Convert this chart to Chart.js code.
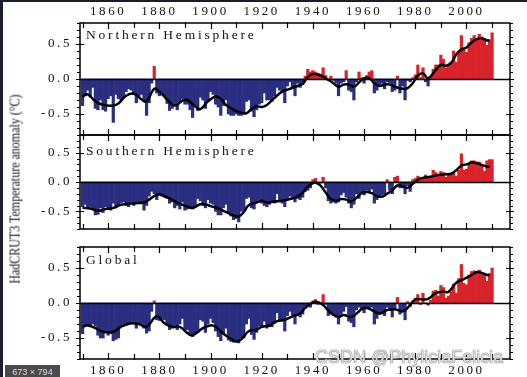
<!DOCTYPE html>
<html>
<head>
<meta charset="utf-8">
<script src="https://cdn.jsdelivr.net/npm/chart.js@4"></script>
<style>
  html, body { margin: 0; padding: 0; background: #fff; }
  #wrap { position: relative; width: 527px; height: 377px; overflow: hidden; background: #fff;
          border-top: 2px solid #1b1d2e; border-left: 3px solid #1b1d2e; box-sizing: border-box; }
  #wrap canvas { position: absolute; left: -3px; top: -2px; }
  .ttl { position: absolute; left: 83px; font: 13.5px "Liberation Serif", "DejaVu Serif", serif;
         letter-spacing: 2.8px; color: #111; line-height: 14px; white-space: nowrap; }
  #ylab { position: absolute; left: 12px; top: 187px; width: 0; height: 0; }
  #ylab span { position: absolute; white-space: nowrap; font: 15px "Liberation Serif", serif; color: #111;
               transform: translate(-50%, -50%) rotate(-90deg) scaleX(0.8); }
  #mark { position: absolute; left: 312px; top: 345px; font: 18px "Liberation Sans", Arial, sans-serif;
          line-height: 20px; color: rgba(255,255,255,0.75); white-space: nowrap;
          text-shadow: 0 0 1px #777, 0 0 1px #777, 0 0 1px #888; }
  #badge { position: absolute; left: 2px; top: 363px; width: 55px; height: 14px; background: #4b4b4b;
           color: #d8d8d8; font: 9px "Liberation Sans", Arial, sans-serif; line-height: 14px; text-align: center; }
</style>
</head>
<body>
<div id="wrap">
  <canvas id="c0" width="527" height="377"></canvas>
  <canvas id="c1" width="527" height="377"></canvas>
  <canvas id="c2" width="527" height="377"></canvas>
  <div class="ttl" style="top:26px">Northern Hemisphere</div>
  <div class="ttl" style="top:142px">Southern Hemisphere</div>
  <div class="ttl" style="top:251px">Global</div>
  <div id="ylab"><span>HadCRUT3 Temperature anomaly (°C)</span></div>
  <div id="mark">CSDN @PhyliciaFelicia</div>
  <div id="badge">673 × 794</div>
</div>
<script>
// ── Data (annual anomalies, °C) ───────────────────────────
const FIRST_YEAR = 1850;
const X_TICKS = [1850, 1860, 1870, 1880, 1890, 1900, 1910, 1920, 1930, 1940, 1950, 1960, 1970, 1980, 1990, 2000, 2010];
const Y_TICKS = [-0.8, -0.7, -0.6, -0.5, -0.4, -0.3, -0.2, -0.1, 0, 0.1, 0.2, 0.3, 0.4, 0.5, 0.6, 0.7, 0.8];

const nhValues = [
  -0.38, -0.24, -0.16, -0.26, -0.12, -0.42, -0.44, -0.30, -0.44, -0.46,
  -0.28, -0.24, -0.62, -0.22, -0.28, -0.30, -0.26, -0.18, -0.14, -0.16,
  -0.20, -0.34, -0.26, -0.22, -0.30, -0.52, -0.34, -0.06, 0.18, -0.20,
  -0.24, -0.20, -0.24, -0.35, -0.45, -0.42, -0.38, -0.44, -0.34, -0.28,
  -0.36, -0.36, -0.44, -0.55, -0.40, -0.45, -0.26, -0.30, -0.42, -0.32,
  -0.18, -0.22, -0.36, -0.40, -0.52, -0.38, -0.30, -0.50, -0.52, -0.52,
  -0.50, -0.52, -0.52, -0.48, -0.32, -0.30, -0.46, -0.54, -0.44, -0.36,
  -0.34, -0.20, -0.30, -0.30, -0.32, -0.24, -0.12, -0.16, -0.18, -0.34,
  -0.10, -0.04, -0.12, -0.24, -0.06, -0.12, -0.08, 0.04, 0.14, 0.10,
  0.12, 0.10, 0.08, 0.07, 0.16, 0.05, -0.02, 0.04, -0.02, -0.06,
  -0.24, -0.06, -0.04, 0.12, -0.16, -0.18, -0.30, -0.04, 0.10, 0.02,
  -0.06, 0.05, 0.10, 0.12, -0.20, -0.16, -0.08, -0.06, -0.14, -0.04,
  -0.06, -0.18, -0.16, 0.04, -0.20, -0.10, -0.30, -0.02, -0.04, 0.02,
  0.06, 0.20, 0.02, 0.16, -0.04, -0.10, 0.02, 0.14, 0.20, 0.20,
  0.34, 0.28, 0.16, 0.18, 0.24, 0.40, 0.24, 0.40, 0.62, 0.42,
  0.38, 0.52, 0.58, 0.62, 0.56, 0.64, 0.60, 0.58, 0.48, 0.56,
  0.66
];
const shValues = [
  -0.42, -0.38, -0.44, -0.42, -0.45, -0.56, -0.55, -0.44, -0.52, -0.42,
  -0.44, -0.48, -0.36, -0.44, -0.40, -0.36, -0.34, -0.40, -0.42, -0.34,
  -0.40, -0.34, -0.36, -0.34, -0.48, -0.40, -0.24, -0.16, -0.20, -0.30,
  -0.22, -0.24, -0.26, -0.28, -0.36, -0.34, -0.44, -0.40, -0.46, -0.34,
  -0.48, -0.46, -0.44, -0.46, -0.40, -0.28, -0.32, -0.40, -0.44, -0.30,
  -0.36, -0.38, -0.50, -0.56, -0.56, -0.44, -0.38, -0.54, -0.58, -0.64,
  -0.62, -0.68, -0.50, -0.48, -0.28, -0.26, -0.44, -0.46, -0.34, -0.30,
  -0.36, -0.40, -0.42, -0.38, -0.34, -0.36, -0.20, -0.30, -0.36, -0.42,
  -0.30, -0.24, -0.26, -0.34, -0.28, -0.30, -0.26, -0.16, -0.14, -0.10,
  0.04, 0.06, -0.04, -0.02, 0.08, -0.10, -0.32, -0.36, -0.34, -0.36,
  -0.34, -0.22, -0.18, -0.26, -0.36, -0.44, -0.38, -0.20, -0.28, -0.18,
  -0.22, -0.14, -0.16, -0.12, -0.36, -0.30, -0.24, -0.22, -0.20, 0.04,
  -0.14, -0.20, 0.08, 0.10, -0.10, -0.10, -0.20, -0.06, -0.16, 0.04,
  0.06, 0.10, 0.06, 0.08, 0.12, 0.06, 0.10, 0.20, 0.16, 0.10,
  0.18, 0.16, 0.08, 0.12, 0.14, 0.16, 0.10, 0.20, 0.48, 0.20,
  0.22, 0.30, 0.36, 0.36, 0.34, 0.34, 0.28, 0.18, 0.36, 0.38,
  0.38
];
const glValues = [
  -0.44, -0.32, -0.31, -0.33, -0.30, -0.33, -0.46, -0.50, -0.50, -0.40,
  -0.46, -0.44, -0.54, -0.52, -0.50, -0.33, -0.30, -0.32, -0.30, -0.28,
  -0.30, -0.36, -0.28, -0.30, -0.36, -0.43, -0.40, -0.12, 0.03, -0.24,
  -0.25, -0.22, -0.24, -0.32, -0.38, -0.36, -0.32, -0.38, -0.30, -0.22,
  -0.40, -0.38, -0.46, -0.48, -0.44, -0.42, -0.24, -0.26, -0.42, -0.30,
  -0.22, -0.28, -0.40, -0.48, -0.54, -0.44, -0.36, -0.53, -0.55, -0.56,
  -0.53, -0.57, -0.50, -0.50, -0.30, -0.22, -0.45, -0.52, -0.42, -0.33,
  -0.35, -0.26, -0.36, -0.34, -0.34, -0.29, -0.14, -0.26, -0.24, -0.40,
  -0.18, -0.12, -0.17, -0.30, -0.16, -0.20, -0.16, -0.05, -0.03, -0.06,
  0.03, 0.05, -0.02, -0.01, 0.12, -0.02, -0.18, -0.16, -0.18, -0.20,
  -0.30, -0.16, -0.12, -0.05, -0.26, -0.28, -0.34, -0.10, -0.06, -0.10,
  -0.14, -0.06, -0.08, -0.06, -0.30, -0.22, -0.16, -0.14, -0.18, -0.06,
  -0.08, -0.20, -0.10, 0.08, -0.16, -0.12, -0.24, 0.02, -0.05, 0.03,
  0.07, 0.12, -0.02, 0.14, -0.01, -0.03, 0.04, 0.17, 0.18, 0.10,
  0.25, 0.22, 0.07, 0.10, 0.16, 0.27, 0.14, 0.35, 0.55, 0.28,
  0.26, 0.40, 0.45, 0.46, 0.44, 0.47, 0.42, 0.40, 0.31, 0.42,
  0.50
];

// decadal smoothed curves
const nhSmoothYears = [1850, 1852, 1855, 1858, 1862, 1864, 1867, 1870, 1873, 1875, 1878, 1880, 1883, 1886, 1889, 1891, 1894, 1896, 1899, 1902, 1904, 1906, 1909, 1912, 1914, 1916, 1918, 1920, 1922, 1925, 1928, 1931, 1934, 1936, 1938, 1940, 1943, 1945, 1948, 1950, 1952, 1954, 1956, 1958, 1960, 1962, 1964, 1966, 1968, 1970, 1972, 1975, 1977, 1979, 1981, 1983, 1985, 1988, 1990, 1992, 1994, 1996, 1998, 2000, 2002, 2004, 2006, 2008, 2009];
const nhSmooth = [-0.25, -0.22, -0.32, -0.37, -0.38, -0.35, -0.24, -0.21, -0.29, -0.32, -0.14, -0.18, -0.29, -0.38, -0.31, -0.30, -0.39, -0.43, -0.32, -0.25, -0.28, -0.37, -0.44, -0.48, -0.49, -0.43, -0.39, -0.40, -0.37, -0.27, -0.18, -0.14, -0.10, -0.07, 0.03, 0.07, 0.05, 0.01, -0.06, -0.11, -0.08, -0.08, -0.11, -0.05, 0.01, 0.01, -0.06, -0.10, -0.08, -0.08, -0.11, -0.14, -0.13, -0.06, 0.05, 0.08, 0.01, 0.13, 0.20, 0.19, 0.23, 0.35, 0.42, 0.45, 0.52, 0.57, 0.58, 0.55, 0.55];

const shSmoothYears = [1850, 1853, 1856, 1859, 1862, 1865, 1868, 1871, 1874, 1876, 1878, 1880, 1882, 1885, 1888, 1891, 1893, 1896, 1898, 1900, 1903, 1906, 1909, 1911, 1913, 1915, 1918, 1920, 1922, 1925, 1928, 1931, 1934, 1936, 1938, 1940, 1941, 1943, 1945, 1947, 1949, 1951, 1953, 1955, 1957, 1959, 1961, 1963, 1965, 1967, 1969, 1971, 1973, 1975, 1977, 1979, 1981, 1983, 1986, 1989, 1992, 1994, 1996, 1998, 2000, 2002, 2004, 2006, 2008, 2009];
const shSmooth = [-0.44, -0.45, -0.49, -0.46, -0.44, -0.39, -0.37, -0.36, -0.35, -0.30, -0.24, -0.21, -0.24, -0.30, -0.37, -0.42, -0.44, -0.38, -0.38, -0.41, -0.45, -0.51, -0.57, -0.59, -0.51, -0.39, -0.35, -0.32, -0.35, -0.33, -0.32, -0.29, -0.25, -0.18, -0.08, -0.02, -0.01, -0.06, -0.18, -0.29, -0.32, -0.29, -0.30, -0.33, -0.27, -0.19, -0.17, -0.19, -0.24, -0.25, -0.20, -0.14, -0.06, -0.07, -0.10, -0.03, 0.04, 0.07, 0.09, 0.12, 0.13, 0.14, 0.20, 0.28, 0.30, 0.33, 0.32, 0.29, 0.26, 0.26];

const glSmoothYears = [1850, 1852, 1855, 1858, 1862, 1865, 1869, 1872, 1875, 1879, 1882, 1885, 1888, 1891, 1893, 1897, 1900, 1902, 1905, 1908, 1910, 1912, 1915, 1918, 1920, 1923, 1926, 1929, 1932, 1935, 1937, 1940, 1942, 1944, 1947, 1950, 1952, 1955, 1958, 1960, 1963, 1966, 1969, 1972, 1975, 1977, 1980, 1983, 1985, 1988, 1991, 1993, 1996, 1999, 2002, 2004, 2006, 2008, 2009];
const glSmooth = [-0.34, -0.32, -0.36, -0.41, -0.41, -0.34, -0.29, -0.30, -0.34, -0.19, -0.29, -0.34, -0.34, -0.43, -0.46, -0.36, -0.32, -0.34, -0.44, -0.51, -0.55, -0.52, -0.40, -0.38, -0.34, -0.32, -0.26, -0.24, -0.19, -0.15, -0.07, 0.01, 0.01, -0.03, -0.14, -0.20, -0.17, -0.20, -0.12, -0.07, -0.10, -0.15, -0.10, -0.09, -0.12, -0.07, 0.05, 0.05, 0.06, 0.14, 0.16, 0.16, 0.29, 0.34, 0.40, 0.44, 0.43, 0.40, 0.40];

// ── Styling ───────────────────────────────────────────────
const RED = "#d9232a";
const BLUE = "#2b2f82";
const FONT = { family: "'Liberation Serif', 'DejaVu Serif', serif", size: 13 };

const panelFrame = {
  id: "panelFrame",
  beforeDraw(chart) { chart.ctx.letterSpacing = "2.6px"; },
  afterDatasetsDraw(chart) {
    const { ctx, chartArea: a, scales } = chart;
    const x = scales.x, y = scales.y;
    ctx.save();
    ctx.letterSpacing = "0px";
    ctx.strokeStyle = "#000";
    // zero line
    ctx.lineWidth = 1.3;
    const y0 = Math.round(y.getPixelForValue(0)) + 0.5;
    ctx.beginPath(); ctx.moveTo(a.left, y0); ctx.lineTo(a.right, y0); ctx.stroke();
    // frame
    ctx.lineWidth = 1.5;
    ctx.strokeRect(a.left, a.top, a.right - a.left, a.bottom - a.top);
    ctx.lineWidth = 1.2;
    ctx.beginPath();
    X_TICKS.forEach((v) => {
      const px = Math.round(x.getPixelForValue(v)) + 0.5;
      const len = v % 20 === 0 ? 6 : 5;
      ctx.moveTo(px, a.top - 1); ctx.lineTo(px, a.top + len);
      ctx.moveTo(px, a.bottom + 1); ctx.lineTo(px, a.bottom - len);
    });
    Y_TICKS.forEach((v) => {
      const py = Math.round(y.getPixelForValue(v)) + 0.5;
      const major = Math.abs(v * 2 - Math.round(v * 2)) < 1e-6;
      const out = major ? 4 : 3, inn = major ? 4 : 0;
      ctx.moveTo(a.left - out, py); ctx.lineTo(a.left + inn, py);
      ctx.moveTo(a.right + out, py); ctx.lineTo(a.right - inn, py);
    });
    ctx.stroke();
    ctx.restore();
  },
  afterDraw(chart) { chart.ctx.letterSpacing = "0px"; }
};

function makePanel(canvasId, values, smoothYears, smooth, idx) {
  const xPos = idx === 0 ? "top" : "bottom";
  const padTop = idx === 0 ? 0 : 23 + 112 * idx;
  const padBottom = idx === 2 ? 0 : 377 - (135 + 112 * idx);
  new Chart(document.getElementById(canvasId), {
    type: "bar",
    data: {
      datasets: [
        {
          type: "line",
          data: smoothYears.map((yr, i) => ({ x: yr, y: smooth[i] })),
          borderColor: "#000",
          borderWidth: 2.5,
          pointRadius: 0,
          tension: 0.45,
          fill: false,
          order: 0
        },
        {
          data: values.map((v, i) => ({ x: FIRST_YEAR + i, y: v })),
          backgroundColor: values.map((v) => (v >= 0 ? RED : BLUE)),
          borderWidth: 0,
          barPercentage: 1,
          categoryPercentage: 1,
          order: 1
        }
      ]
    },
    options: {
      responsive: false,
      animation: false,
      devicePixelRatio: 1,
      layout: { padding: { top: padTop, bottom: padBottom, left: 0, right: 17 } },
      plugins: { legend: { display: false }, tooltip: { enabled: false } },
      scales: {
        x: {
          type: "linear",
          position: xPos,
          display: idx !== 1,
          min: 1849,
          max: 2017,
          offset: false,
          grid: { display: false, drawTicks: false },
          border: { display: false },
          afterBuildTicks: (s) => { s.ticks = X_TICKS.map((v) => ({ value: v })); },
          afterFit: (s) => { s.height = idx === 0 ? 23 : 18; },
          ticks: {
            font: FONT,
            color: "#111",
            padding: 4,
            maxRotation: 0,
            autoSkip: false,
            callback: (v) => (v % 20 === 0 ? String(v) : "")
          }
        },
        y: {
          min: -0.8,
          max: 0.8,
          grid: { display: false, drawTicks: false },
          border: { display: false },
          afterBuildTicks: (s) => { s.ticks = Y_TICKS.map((v) => ({ value: v })); },
          afterFit: (s) => { s.width = 80; },
          ticks: {
            font: FONT,
            color: "#111",
            padding: 8,
            autoSkip: false,
            callback: (v) => (Math.abs(v * 2 - Math.round(v * 2)) < 1e-6 ? v.toFixed(1) : "")
          }
        }
      }
    },
    plugins: [panelFrame]
  });
}

makePanel("c0", nhValues, nhSmoothYears, nhSmooth, 0);
makePanel("c1", shValues, shSmoothYears, shSmooth, 1);
makePanel("c2", glValues, glSmoothYears, glSmooth, 2);
</script>
</body>
</html>
